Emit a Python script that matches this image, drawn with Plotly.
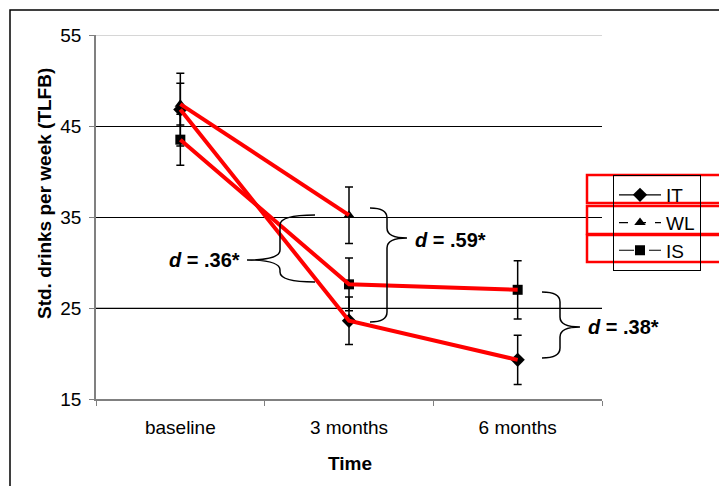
import plotly.graph_objects as go

# ---- data ----
categories = ["baseline", "3 months", "6 months"]
it_vals = [46.8, 23.6, 19.3]
it_err = [4.0, 2.6, 2.7]
wl_vals = [47.4, 35.2, None]
wl_err = [2.3, 3.1, 0]
is_vals = [43.5, 27.6, 27.0]
is_err = [2.8, 2.9, 3.2]
y_ticks = [15, 25, 35, 45, 55]
effect_labels = ["d = .36*", "d = .59*", "d = .38*"]

OFF = 8  # browser body margin
W, H = 727 - OFF, 486 - OFF
# plot area in reference (window) pixels
L, R, T, B = 96, 602, 35, 399
FONT = "Arial, Liberation Sans, sans-serif"


def PX(x):
    return (x - L) / (R - L)


def PY(y):
    return (B - y) / (B - T)


fig = go.Figure()

series = [
    ("IT", it_vals, it_err, "diamond", "solid", 11),
    ("WL", wl_vals, wl_err, "triangle-up", "dash", 10),
    ("IS", is_vals, is_err, "square", "longdash", 10),
]
for name, vals, err, sym, dash, ms in series:
    fig.add_trace(go.Scatter(
        x=categories, y=vals, name=name, mode="lines+markers",
        line=dict(color="black", width=1.2, dash=dash),
        marker=dict(symbol=sym, size=ms, color="black"),
        error_y=dict(type="data", array=err, visible=True, color="black",
                     thickness=1.5, width=4),
    ))

# red highlight overlays
for name, vals, err, sym, dash, ms in series:
    fig.add_trace(go.Scatter(
        x=categories, y=vals, mode="lines", showlegend=False, hoverinfo="skip",
        line=dict(color="#ff0000", width=4),
    ))

shapes = []
# frame
shapes.append(dict(type="rect", xref="paper", yref="paper",
                   x0=PX(10), x1=PX(722), y0=PY(10), y1=PY(495),
                   line=dict(color="black", width=1.5), layer="below"))
# gridline recolours
shapes.append(dict(type="line", xref="paper", yref="y", x0=0, x1=1, y0=55, y1=55,
                   line=dict(color="#c8c8c8", width=1.5), layer="between"))
shapes.append(dict(type="line", xref="paper", yref="y", x0=0, x1=1, y0=25, y1=25,
                   line=dict(color="#777777", width=1), layer="between"))


def brace(xe, xs, xt, ytop, ytip, ybot, r=10):
    def p(x, y):
        return f"{PX(x):.5f},{PY(y):.5f}"
    path = (f"M {p(xe, ytop)} Q {p(xs, ytop)} {p(xs, ytop + r)} "
            f"L {p(xs, ytip - r)} Q {p(xs, ytip)} {p(xt, ytip)} "
            f"Q {p(xs, ytip)} {p(xs, ytip + r)} "
            f"L {p(xs, ybot - r)} Q {p(xs, ybot)} {p(xe, ybot)}")
    return dict(type="path", xref="paper", yref="paper", path=path,
                line=dict(color="black", width=1.5), layer="above")


shapes.append(brace(315, 280, 247, 215, 260, 282))
shapes.append(brace(370, 387, 407, 208, 238, 322))
shapes.append(brace(542, 560, 580, 292, 327, 358))

# red rectangles over legend
for y0, y1 in [(175, 203), (206, 234), (235, 262)]:
    shapes.append(dict(type="rect", xref="paper", yref="paper",
                       x0=PX(587), x1=PX(760), y0=PY(y1), y1=PY(y0),
                       line=dict(color="#ff0000", width=2.5), layer="above"))

annotations = []
for lab, (x, y, anc) in zip(effect_labels, [(242, 260, "right"), (413, 240, "left"), (586, 327, "left")]):
    txt = "<b><i>" + lab[0] + "</i>" + lab[1:] + "</b>"
    annotations.append(dict(xref="paper", yref="paper", x=PX(x), y=PY(y), text=txt,
                            showarrow=False, xanchor=anc, yanchor="middle",
                            font=dict(family=FONT, size=20, color="black")))
annotations.append(dict(xref="paper", yref="paper", x=PX(44), y=PY(194),
                        text="<b>Std. drinks per week (TLFB)</b>", textangle=-90,
                        showarrow=False, xanchor="center", yanchor="middle",
                        font=dict(family=FONT, size=19, color="black")))
annotations.append(dict(xref="paper", yref="paper", x=PX(350), y=PY(463),
                        text="<b>Time</b>", showarrow=False,
                        xanchor="center", yanchor="middle",
                        font=dict(family=FONT, size=19, color="black")))

fig.update_layout(
    width=W, height=H,
    margin=dict(l=L - OFF, r=W - (R - OFF), t=T - OFF, b=H - (B - OFF), pad=0),
    paper_bgcolor="white", plot_bgcolor="white",
    font=dict(family=FONT, size=19, color="black"),
    showlegend=True,
    legend=dict(x=PX(613), y=PY(175), xanchor="left", yanchor="top",
                bgcolor="rgba(0,0,0,0)", bordercolor="black", borderwidth=1,
                font=dict(family=FONT, size=19, color="black"),
                itemwidth=42, entrywidth=62, tracegroupgap=0),
    shapes=shapes, annotations=annotations,
)
fig.update_xaxes(type="category", range=[-0.5, 2.5], tickson="boundaries",
                 ticks="outside", ticklen=5, tickcolor="#808080",
                 showline=True, linecolor="#808080", linewidth=1.5,
                 showgrid=False, zeroline=False, ticklabelstandoff=10,
                 tickfont=dict(family=FONT, size=19, color="black"))
fig.update_yaxes(range=[15, 55], tickvals=y_ticks, ticks="outside", ticklen=5,
                 tickcolor="#808080", showline=True, linecolor="#808080", linewidth=1.5,
                 showgrid=True, gridcolor="black", gridwidth=1, zeroline=False,
                 ticklabelstandoff=4,
                 tickfont=dict(family=FONT, size=19, color="black"))

fig.write_html("out.html")
